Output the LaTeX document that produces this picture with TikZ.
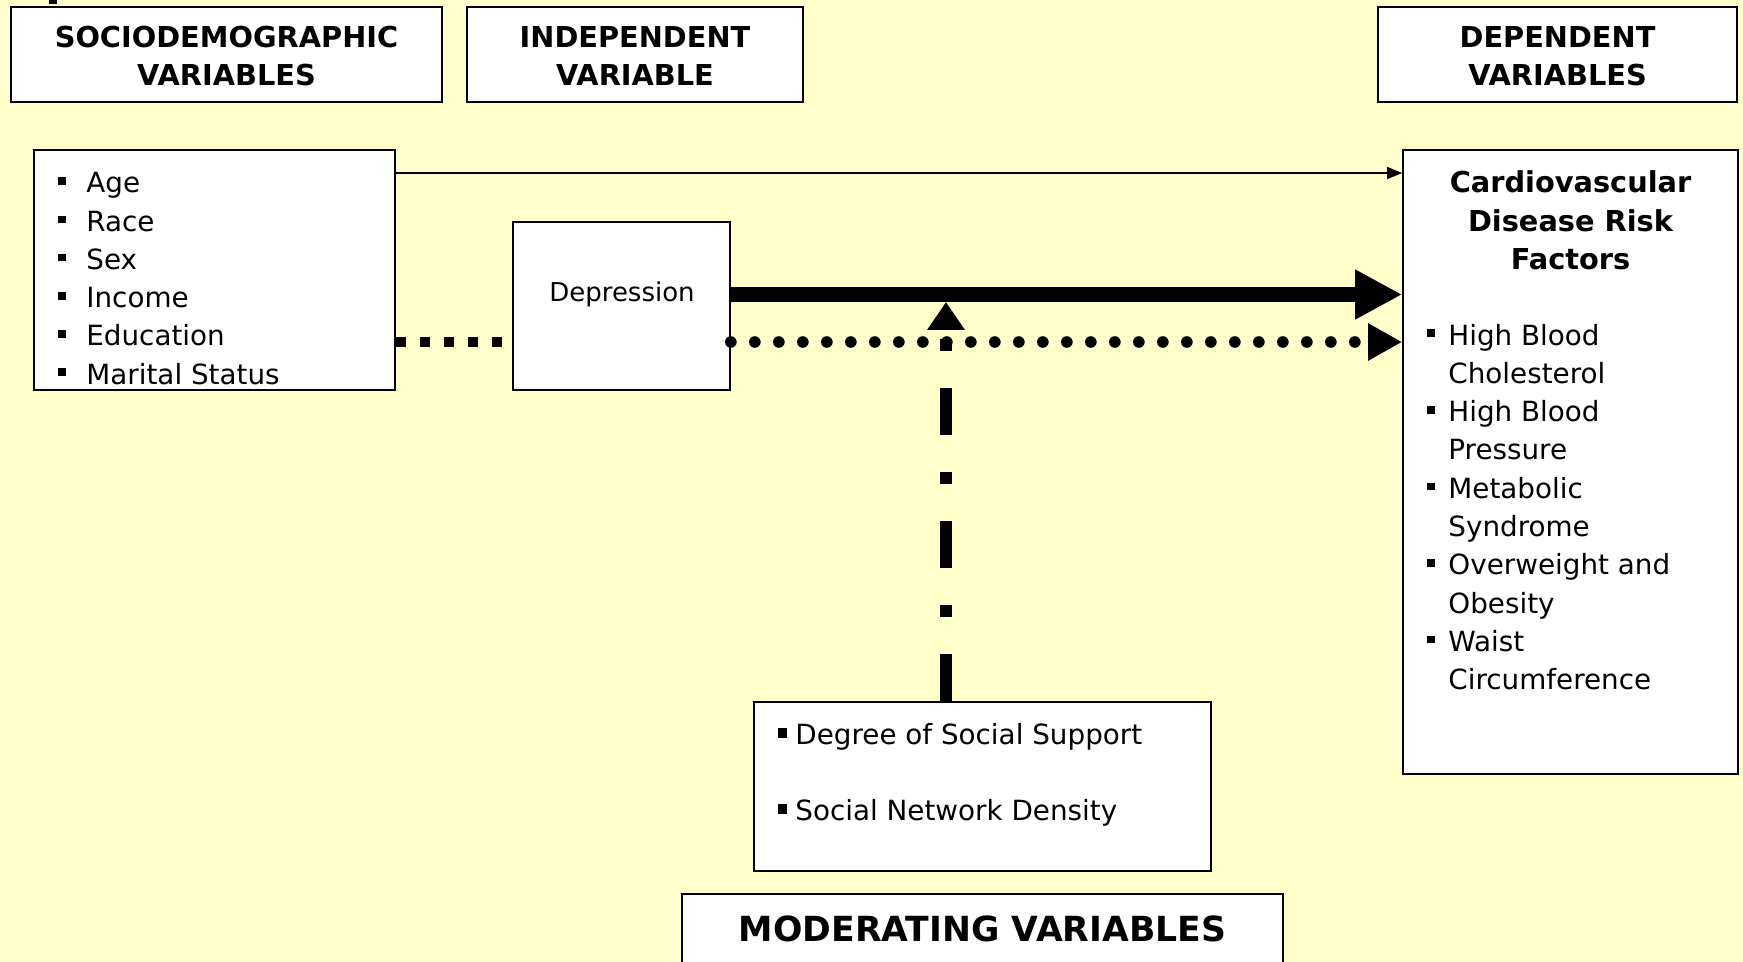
\documentclass[tikz,border=0pt]{standalone}
\usepackage{fontspec}
\setmainfont{DejaVu Sans}
\usetikzlibrary{arrows.meta}
\definecolor{bg}{HTML}{FFFFCC}
\newcommand{\sqb}{\rule[4pt]{3.8pt}{3.8pt}}
\newcommand{\sqm}{\rule[3pt]{4.2pt}{5pt}}
\begin{document}
\begin{tikzpicture}[x=0.5pt,y=-0.5pt,
  box/.style={draw=black,line width=0.85pt,fill=white,inner sep=0pt,rectangle},
  hd/.style={inner sep=0pt,anchor=base,font=\bfseries\fontsize{14.4}{17}\selectfont},
  mhd/.style={inner sep=0pt,anchor=base,font=\bfseries\fontsize{17.3}{20}\selectfont},
  tx/.style={inner sep=0pt,anchor=base west,font=\fontsize{13.9}{16}\selectfont},
  deptx/.style={inner sep=0pt,anchor=base,font=\fontsize{13}{15}\selectfont},
  thinarrow/.style={line width=0.6pt,-{Triangle[length=7.5pt,width=6pt]}},
  thickarrow/.style={line width=7.5pt,-{Triangle[length=23.5pt,width=23.3pt]}},
  dotarrow/.style={line width=5.8pt,line cap=round,dash pattern=on 0pt off 12pt,-{Triangle[length=17pt,width=17.5pt]}},
  squareline/.style={line width=5pt,dash pattern=on 5pt off 7pt},
  dashdotarrow/.style={line width=6pt,dash pattern=on 23.5pt off 18.5pt on 6pt off 18.5pt,-{Triangle[length=14pt,width=18pt]}}]
\useasboundingbox (0,0) rectangle (1743,962);
\fill[bg] (0,0) rectangle (1743,962);
\fill (49,0) rectangle (57,4);

% header boxes
\node[box,minimum width=215.5pt,minimum height=47.5pt] (soch) at (226.5,54.5) {};
\node[box,minimum width=168pt,minimum height=47.5pt] (indh) at (635,54.5) {};
\node[box,minimum width=179.5pt,minimum height=47.5pt] (deph) at (1557.5,54.5) {};
\node[hd] (soch1) at (226.5,48) {SOCIODEMOGRAPHIC};
\node[hd] (soch2) at (226.5,86) {VARIABLES};
\node[hd] (indh1) at (635,48) {INDEPENDENT};
\node[hd] (indh2) at (635,86) {VARIABLE};
\node[hd] (deph1) at (1557.5,48) {DEPENDENT};
\node[hd] (deph2) at (1557.5,86) {VARIABLES};

% main boxes
\node[box,minimum width=180.5pt,minimum height=120pt] (socl) at (214.5,270) {};
\node[box,minimum width=108.5pt,minimum height=84pt] (depr) at (621.5,306) {};
\node[box,minimum width=167.5pt,minimum height=312pt] (cvd) at (1570.5,462) {};
\node[box,minimum width=228.5pt,minimum height=84.5pt] (modl) at (982.5,786.5) {};
\node[box,minimum width=300.5pt,minimum height=45.5pt] (modh) at (982.5,939.5) {};

% texts
\foreach \t [count=\i from 0] in {Age,Race,Sex,Income,Education,Marital Status}
  \node[tx] (sl\i) at (58,{193+38.2*\i}) {\makebox[14pt][l]{\sqb}\t};
\node[deptx] (dtx) at (622,301.5) {Depression};
\foreach \t [count=\i from 0] in {Cardiovascular,Disease Risk,Factors}
  \node[hd] (ct\i) at (1570.5,{193+38.5*\i}) {\t};
\foreach \b/\t [count=\i from 0] in {1/High Blood,0/Cholesterol,1/High Blood,0/Pressure,1/Metabolic,0/Syndrome,1/Overweight and,0/Obesity,1/Waist,0/Circumference}
  \node[tx] (cl\i) at (1427,{345+38.3*\i}) {\makebox[10.5pt][l]{\ifnum\b=1 \sqb\fi}\t};
\node[tx] (m1) at (778,744) {\makebox[8.5pt][l]{\sqm}Degree of Social Support};
\node[tx] (m2) at (778,820) {\makebox[8.5pt][l]{\sqm}Social Network Density};
\node[mhd] (mh1) at (982.5,941) {MODERATING VARIABLES};

% connectors
\coordinate (yThin) at (0,173);
\coordinate (yThick) at (0,294.5);
\coordinate (yDot) at (0,342);
\coordinate (tip) at (946,302);
\draw[thinarrow] (socl.east |- yThin) -- (cvd.west |- yThin);
\draw[squareline] (socl.east |- yDot) -- (depr.west |- yDot);
\draw[thickarrow] (depr.east |- yThick) -- (cvd.west |- yThick);
\draw[dotarrow] (depr.east |- yDot) -- (cvd.west |- yDot);
\draw[dashdotarrow] (modl.north -| tip) -- (tip);
\end{tikzpicture}
\end{document}
